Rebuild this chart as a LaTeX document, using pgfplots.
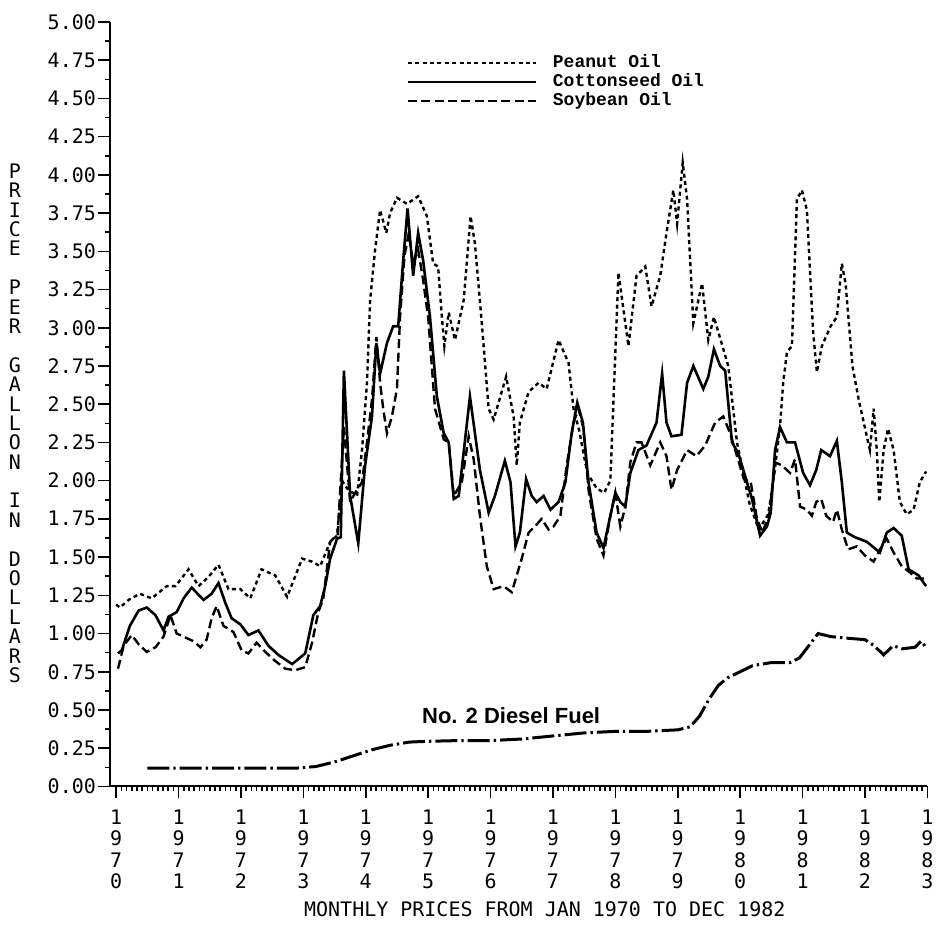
\documentclass[border=0pt]{standalone}
\usepackage{fontspec}
\setmainfont{Liberation Serif}
\setmonofont{DejaVu Sans Mono}
\newfontfamily\legfont{Liberation Mono}
\newfontfamily\dieselfont{Liberation Sans}
\usepackage{pgfplots}
\pgfplotsset{compat=1.18}
\begin{document}
\begin{tikzpicture}
\begin{axis}[
  scale only axis, width=409pt, height=382.5pt,
  xmin=1969.9, xmax=1983, ymin=0, ymax=5,
  axis x line*=bottom, axis y line*=left,
  axis line style={line width=1pt},
  clip=false,
  xtick={1970,1971,1972,1973,1974,1975,1976,1977,1978,1979,1980,1981,1982,1983},
  xticklabels={{1\\9\\7\\0},{1\\9\\7\\1},{1\\9\\7\\2},{1\\9\\7\\3},{1\\9\\7\\4},{1\\9\\7\\5},{1\\9\\7\\6},{1\\9\\7\\7},{1\\9\\7\\8},{1\\9\\7\\9},{1\\9\\8\\0},{1\\9\\8\\1},{1\\9\\8\\2},{1\\9\\8\\3}},
  xticklabel style={align=center, font=\ttfamily\fontsize{10}{10.8}\selectfont, yshift=-2pt},
  minor x tick num=11,
  ytick={0,0.25,0.5,0.75,1,1.25,1.5,1.75,2,2.25,2.5,2.75,3,3.25,3.5,3.75,4,4.25,4.5,4.75,5},
  minor y tick num=1,
  yticklabel style={font=\ttfamily\fontsize{10}{12}\selectfont, xshift=2.5pt,
    /pgf/number format/fixed, /pgf/number format/fixed zerofill, /pgf/number format/precision=2, /pgf/number format/assume math mode=true},
  tick align=outside,
  major tick length=6pt, minor tick length=2.5pt,
  tick style={line width=0.8pt, black},
  legend cell align=left,
  legend style={at={(axis cs:1974.55,4.84)}, anchor=north west, draw=none, fill=none,
    font=\legfont\bfseries\fontsize{9}{9}\selectfont, row sep=-2.5pt},
  legend image code/.code={\draw[#1] (0pt,0pt) -- (64pt,0pt);},
]
% Peanut Oil
\addplot[black, line width=1.2pt, dash pattern=on 2pt off 1.7pt] coordinates {
(1970.0,1.19)(1970.06,1.17)(1970.2,1.22)(1970.38,1.26)(1970.57,1.23)(1970.81,1.31)(1970.95,1.31)
(1971.16,1.42)(1971.32,1.31)(1971.48,1.37)(1971.64,1.45)(1971.8,1.29)(1971.99,1.29)
(1972.15,1.23)(1972.33,1.42)(1972.55,1.38)(1972.74,1.24)(1972.98,1.49)
(1973.14,1.47)(1973.27,1.44)(1973.43,1.60)(1973.54,1.64)(1973.62,2.0)(1973.7,1.95)(1973.86,1.90)(1973.94,2.2)
(1974.02,2.64)(1974.07,3.18)(1974.15,3.51)(1974.23,3.77)(1974.33,3.62)(1974.39,3.75)(1974.5,3.85)(1974.66,3.81)(1974.84,3.86)(1974.98,3.73)
(1975.08,3.42)(1975.16,3.40)(1975.22,3.07)(1975.26,2.88)(1975.33,3.10)(1975.43,2.92)(1975.57,3.18)(1975.68,3.73)(1975.75,3.55)(1975.86,3.03)(1975.97,2.47)
(1976.05,2.40)(1976.25,2.68)(1976.37,2.42)(1976.42,2.10)(1976.47,2.38)(1976.61,2.58)(1976.77,2.64)(1976.9,2.60)
(1977.09,2.92)(1977.25,2.77)(1977.33,2.47)(1977.42,2.33)(1977.55,2.05)(1977.7,1.95)(1977.82,1.92)(1977.92,2.0)
(1978.05,3.36)(1978.21,2.88)(1978.34,3.34)(1978.48,3.40)(1978.58,3.14)(1978.72,3.34)(1978.82,3.62)(1978.93,3.90)(1978.99,3.68)
(1979.08,4.08)(1979.15,3.84)(1979.25,3.03)(1979.39,3.29)(1979.49,2.92)(1979.58,3.07)(1979.81,2.75)(1979.95,2.25)
(1980.05,2.05)(1980.15,1.85)(1980.3,1.68)(1980.45,1.78)(1980.55,2.05)(1980.64,2.36)(1980.69,2.64)(1980.75,2.84)(1980.83,2.88)(1980.91,3.84)(1980.99,3.90)
(1981.07,3.77)(1981.17,2.97)(1981.23,2.71)(1981.31,2.88)(1981.45,3.01)(1981.55,3.07)(1981.63,3.42)(1981.69,3.29)(1981.8,2.75)(1981.9,2.53)
(1982.03,2.29)(1982.08,2.20)(1982.14,2.47)(1982.19,2.20)(1982.23,1.86)(1982.30,2.20)(1982.37,2.34)(1982.46,2.20)(1982.56,1.86)(1982.67,1.78)(1982.78,1.81)(1982.88,1.99)(1982.98,2.06)
};
\addlegendentry{\hspace{6pt}Peanut Oil}
% Cottonseed Oil
\addplot[black, line width=1.3pt, solid] coordinates {
(1970.03,0.87)(1970.09,0.89)(1970.22,1.05)(1970.36,1.15)(1970.49,1.17)(1970.63,1.12)(1970.76,1.02)(1970.84,1.11)(1970.97,1.14)
(1971.08,1.23)(1971.21,1.30)(1971.4,1.22)(1971.53,1.26)(1971.64,1.33)(1971.75,1.20)(1971.85,1.10)(1971.99,1.06)
(1972.12,0.99)(1972.28,1.02)(1972.44,0.92)(1972.6,0.86)(1972.82,0.80)
(1973.03,0.87)(1973.16,1.12)(1973.27,1.18)(1973.35,1.31)(1973.43,1.49)(1973.54,1.62)(1973.6,1.63)(1973.65,2.72)(1973.75,1.90)(1973.88,1.59)(1973.99,2.10)
(1974.1,2.42)(1974.17,2.90)(1974.23,2.70)(1974.34,2.90)(1974.44,3.01)(1974.52,3.01)(1974.6,3.44)(1974.67,3.78)(1974.76,3.34)(1974.84,3.62)(1974.92,3.44)
(1975.03,3.07)(1975.14,2.55)(1975.25,2.31)(1975.33,2.25)(1975.41,1.88)(1975.49,1.90)(1975.67,2.55)(1975.83,2.07)(1975.97,1.79)
(1976.07,1.90)(1976.23,2.13)(1976.32,1.99)(1976.40,1.57)(1976.47,1.66)(1976.57,2.01)(1976.66,1.90)(1976.74,1.86)(1976.85,1.90)(1976.96,1.81)
(1977.09,1.86)(1977.2,1.99)(1977.3,2.31)(1977.39,2.51)(1977.48,2.38)(1977.57,1.99)(1977.7,1.66)(1977.81,1.56)(1977.92,1.77)
(1978.0,1.92)(1978.08,1.86)(1978.16,1.83)(1978.24,2.05)(1978.37,2.20)(1978.5,2.23)(1978.66,2.38)(1978.75,2.70)(1978.82,2.38)(1978.9,2.29)
(1979.06,2.30)(1979.15,2.64)(1979.25,2.75)(1979.41,2.60)(1979.49,2.68)(1979.58,2.86)(1979.68,2.75)(1979.76,2.72)(1979.87,2.25)(1979.97,2.18)
(1980.08,2.03)(1980.19,1.88)(1980.32,1.64)(1980.43,1.70)(1980.49,1.79)(1980.56,2.20)(1980.64,2.35)(1980.75,2.25)(1980.88,2.25)
(1981.01,2.05)(1981.12,1.97)(1981.22,2.07)(1981.3,2.20)(1981.44,2.16)(1981.55,2.26)(1981.63,1.99)(1981.71,1.66)(1981.84,1.63)
(1982.03,1.60)(1982.24,1.53)(1982.35,1.66)(1982.46,1.69)(1982.59,1.64)(1982.7,1.42)(1982.86,1.38)(1982.98,1.31)
};
\addlegendentry{\hspace{6pt}Cottonseed Oil}
% Soybean Oil
\addplot[black, line width=1.2pt, dash pattern=on 4.5pt off 2.2pt] coordinates {
(1970.03,0.77)(1970.12,0.92)(1970.25,0.99)(1970.36,0.93)(1970.49,0.88)(1970.63,0.91)(1970.76,0.98)(1970.87,1.12)(1970.97,1.00)
(1971.13,0.97)(1971.24,0.95)(1971.35,0.91)(1971.45,0.96)(1971.53,1.10)(1971.61,1.18)(1971.72,1.05)(1971.88,1.01)
(1972.01,0.89)(1972.12,0.87)(1972.25,0.94)(1972.39,0.88)(1972.55,0.82)(1972.71,0.77)(1972.87,0.76)
(1973.03,0.78)(1973.14,0.94)(1973.24,1.14)(1973.32,1.23)(1973.43,1.60)(1973.55,1.65)(1973.65,2.35)(1973.75,1.86)(1973.83,1.92)(1973.94,1.99)
(1974.02,2.25)(1974.1,2.53)(1974.17,2.94)(1974.23,2.64)(1974.28,2.47)(1974.34,2.31)(1974.42,2.42)(1974.5,2.60)(1974.55,3.07)(1974.62,3.47)(1974.69,3.62)(1974.76,3.42)(1974.84,3.51)(1974.92,3.31)
(1975.0,3.07)(1975.11,2.47)(1975.25,2.27)(1975.33,2.25)(1975.41,1.90)(1975.54,1.99)(1975.65,2.29)(1975.73,2.14)(1975.83,1.77)(1975.94,1.44)
(1976.05,1.29)(1976.21,1.31)(1976.34,1.27)(1976.5,1.49)(1976.61,1.66)(1976.71,1.70)(1976.82,1.75)(1976.93,1.68)
(1977.01,1.70)(1977.12,1.77)(1977.22,2.10)(1977.33,2.38)(1977.41,2.47)(1977.49,2.34)(1977.57,1.94)(1977.7,1.62)(1977.81,1.51)(1977.92,1.77)
(1978.0,1.92)(1978.08,1.70)(1978.16,1.83)(1978.24,2.12)(1978.34,2.25)(1978.42,2.25)(1978.56,2.10)(1978.72,2.25)(1978.82,2.16)(1978.9,1.94)(1978.99,2.07)
(1979.15,2.20)(1979.3,2.16)(1979.44,2.23)(1979.6,2.38)(1979.73,2.42)(1979.84,2.31)(1979.95,2.16)
(1980.06,2.01)(1980.17,1.99)(1980.27,1.75)(1980.36,1.66)(1980.47,1.79)(1980.56,2.12)(1980.67,2.10)(1980.8,2.05)(1980.88,2.14)(1980.96,1.83)
(1981.07,1.81)(1981.15,1.77)(1981.22,1.86)(1981.3,1.88)(1981.38,1.77)(1981.49,1.73)(1981.55,1.81)(1981.63,1.68)(1981.73,1.55)(1981.87,1.57)
(1982.0,1.51)(1982.14,1.47)(1982.24,1.55)(1982.35,1.62)(1982.46,1.53)(1982.59,1.44)(1982.72,1.40)(1982.83,1.36)(1982.96,1.36)
};
\addlegendentry{\hspace{6pt}Soybean Oil}
% No. 2 Diesel Fuel
\addplot[black, line width=1.5pt, dash pattern=on 11pt off 2pt on 1.2pt off 2pt, forget plot] coordinates {
(1970.5,0.12)(1971.0,0.12)(1972.0,0.12)(1972.9,0.12)(1973.2,0.13)(1973.5,0.16)(1973.8,0.20)(1974.1,0.24)(1974.4,0.27)(1974.7,0.29)
(1975.0,0.295)(1975.5,0.30)(1976.0,0.30)(1976.5,0.31)(1977.0,0.33)(1977.5,0.35)(1978.0,0.36)(1978.5,0.36)(1979.0,0.37)(1979.2,0.39)
(1979.35,0.46)(1979.5,0.57)(1979.65,0.66)(1979.8,0.71)(1980.0,0.75)(1980.2,0.79)(1980.5,0.81)(1980.8,0.81)(1980.95,0.84)(1981.1,0.92)
(1981.25,1.00)(1981.45,0.98)(1981.7,0.97)(1982.0,0.96)(1982.15,0.92)(1982.3,0.86)(1982.45,0.92)(1982.6,0.90)(1982.8,0.91)(1982.9,0.95)(1983.0,0.90)
};
\node[font=\dieselfont\bfseries\fontsize{11}{11}\selectfont] at (axis cs:1976.33,0.46) {No. 2 Diesel Fuel};
\node[font=\ttfamily\fontsize{10}{9.7}\selectfont, align=center, anchor=center] at ([xshift=-47.5pt]rel axis cs:0,0.475)
  {P\\R\\I\\C\\E\\[9.7pt]P\\E\\R\\[9.7pt]G\\A\\L\\L\\O\\N\\[9.7pt]I\\N\\[9.7pt]D\\O\\L\\L\\A\\R\\S};
\node[font=\ttfamily\fontsize{10}{12}\selectfont] at ([yshift=-61.5pt]rel axis cs:0.532,0) {MONTHLY PRICES FROM JAN 1970 TO DEC 1982};
\end{axis}
\path[use as bounding box] (-55pt,-76.5pt) rectangle (410.5pt,393.5pt);
\end{tikzpicture}
\end{document}
